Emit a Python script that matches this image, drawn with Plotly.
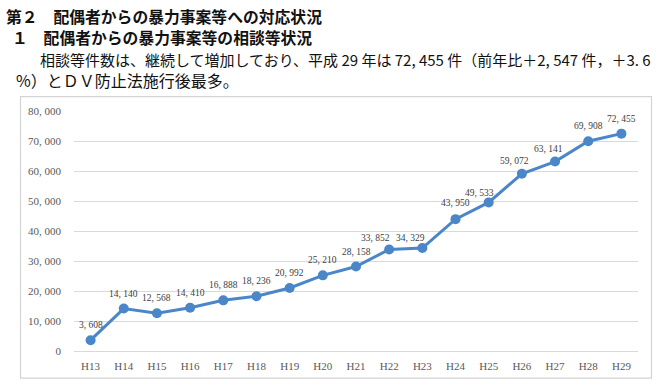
import plotly.graph_objects as go

# ---- data ----
years = ["H13", "H14", "H15", "H16", "H17", "H18", "H19", "H20", "H21",
         "H22", "H23", "H24", "H25", "H26", "H27", "H28", "H29"]
counts = [3608, 14140, 12568, 14410, 16888, 18236, 20992, 25210, 28158,
          33852, 34329, 43950, 49533, 59072, 63141, 69908, 72455]
y_tick_vals = [0, 10000, 20000, 30000, 40000, 50000, 60000, 70000, 80000]
y_tick_text = ["0", "10, 000", "20, 000", "30, 000", "40, 000",
               "50, 000", "60, 000", "70, 000", "80, 000"]
header_lines = [
    "第２　配偶者からの暴力事案等への対応状況",
    "１　配偶者からの暴力事案等の相談等状況",
    "相談等件数は、継続して増加しており、平成 29 年は 72, 455 件（前年比＋2, 547 件，＋3. 6",
    "%）とＤＶ防止法施行後最多。",
]

# ---- layout geometry (pixels) ----
W, H = 656, 384
L, R, T, B = 74, 18, 111, 30
PW, PH = W - L - R, H - T - B


def px(x):
    return (x - L) / PW


def py(y):
    return (H - B - y) / PH


# per-label nudges (pixels)
label_dx = [0, 0, 0, 0, 0, 0, 0, 0, 0, -14, -12, 0, -9, -7, -7, 0, 0]
label_dy = [15, 15, 15, 15, 15, 15, 15, 15, 15, 11, 10, 16, 9, 13, 13, 15, 15]

LINE = "#4a86c8"
SERIF = "Liberation Serif, DejaVu Serif, serif"
JP = "Noto Sans CJK JP, sans-serif"

fig = go.Figure()
fig.add_trace(go.Scatter(
    x=years, y=counts, mode="lines+markers",
    line=dict(color=LINE, width=3),
    marker=dict(color=LINE, size=10),
    hoverinfo="x+y", showlegend=False,
))

annotations = []
for yr, v, dx, dy in zip(years, counts, label_dx, label_dy):
    annotations.append(dict(
        x=yr, y=v, xref="x", yref="y", text=f"{v:,}".replace(",", ", "),
        showarrow=False, xanchor="center", yanchor="middle",
        xshift=dx, yshift=dy,
        font=dict(family=SERIF, size=9.5, color="#404040"),
    ))

header_pos = [(4, 15, True, 15.8), (10, 37, True, 15.8), (38, 59, False, 15), (14, 80, False, 16)]
for txt, (hx, hy, bold, fs) in zip(header_lines, header_pos):
    annotations.append(dict(
        x=px(hx), y=py(hy), xref="paper", yref="paper",
        text=f"<b>{txt}</b>" if bold else txt,
        showarrow=False, xanchor="left", yanchor="middle",
        font=dict(family=JP, size=fs, color="#111111"),
    ))

fig.update_layout(
    width=W, height=H,
    margin=dict(l=L, r=R, t=T, b=B, pad=0),
    paper_bgcolor="white", plot_bgcolor="white",
    annotations=annotations,
    shapes=[dict(type="rect", xref="paper", yref="paper",
                 x0=px(20.5), x1=px(651.5), y0=py(381.5), y1=py(96.5),
                 line=dict(color="#d4d4d4", width=1.2), layer="above")],
    xaxis=dict(
        type="category", range=[-0.5, len(years) - 0.5],
        showgrid=False, showline=True, linecolor="#d9d9d9",
        linewidth=1, ticks="", ticklabelstandoff=5,
        tickfont=dict(family=SERIF, size=11, color="#595959"),
        fixedrange=True,
    ),
    yaxis=dict(
        range=[0, 80000], tickvals=y_tick_vals, ticktext=y_tick_text,
        showgrid=True, gridcolor="#d9d9d9", gridwidth=1, zeroline=False,
        ticks="", ticklabelstandoff=12,
        tickfont=dict(family=SERIF, size=11, color="#595959"),
        fixedrange=True,
    ),
)

fig.write_html(
    "out.html",
    config={"displayModeBar": False},
    post_script="document.body.style.margin='0';document.body.style.overflow='hidden';",
)
